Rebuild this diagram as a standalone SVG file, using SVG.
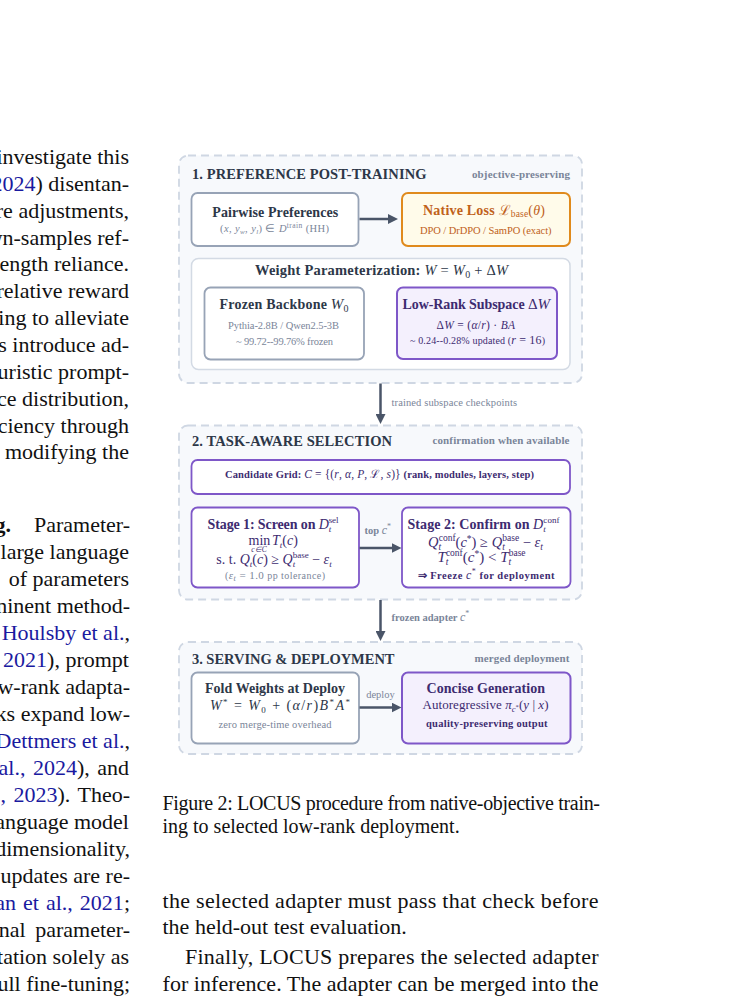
<svg xmlns="http://www.w3.org/2000/svg" width="741" height="1000" viewBox="0 0 741 1000">
<style>
text { font-family: "Liberation Serif", "Times New Roman", serif; }
.body { font-size: 22px; fill: #111; }
.cap { font-size: 20px; fill: #111; }
.cite { fill: #1a1aa0; }
.b { font-weight: bold; }
.panel { fill: #f7f9fc; stroke: #cfd7e3; stroke-width: 1.8; stroke-dasharray: 8 5; }
.boxg { fill: #ffffff; stroke: #97a3b6; stroke-width: 1.8; }
.boxl { fill: #ffffff; stroke: #d3dae4; stroke-width: 1.5; }
.boxp { fill: #ffffff; stroke: #7e57c8; stroke-width: 1.8; }
.boxpf { fill: #f4f0fd; stroke: #7e57c8; stroke-width: 2; }
.boxo { fill: #fffbea; stroke: #e08a1c; stroke-width: 2; }
.pt { font-size: 14.5px; font-weight: bold; fill: #2d3748; }
.tag { font-size: 11px; font-weight: bold; fill: #7a8599; }
.bt { font-size: 14px; font-weight: bold; }
.sm { font-size: 10.5px; }
.dark { fill: #2d3748; }
.gray { fill: #7a8599; }
.purp { fill: #3d2b70; }
.orng { fill: #c0611a; }
.i { font-style: italic; }
.n { font-weight: normal; }
.conn line { stroke: #4a5568; stroke-width: 2.5; }
.lbl { font-size: 10.5px; fill: #7a8599; }
</style>
<defs>
<marker id="ah" viewBox="0 0 10 10" refX="1" refY="5" markerWidth="10" markerHeight="10" markerUnits="userSpaceOnUse" orient="auto">
<path d="M0,0 L10,5 L0,10 z" fill="#4a5568"/>
</marker>
</defs>
<rect width="741" height="1000" fill="#ffffff"/>

<!-- left column body text (clipped) -->
<g id="left-column" class="body" text-anchor="end">
<text x="129" y="164">investigate this</text>
<text x="129" y="190.9"><tspan class="cite">2024</tspan>) disentan-</text>
<text x="129" y="217.7">ore adjustments,</text>
<text x="129" y="244.6">wn-samples ref-</text>
<text x="129" y="271.4">length reliance.</text>
<text x="129" y="298.3">relative reward</text>
<text x="129" y="325.1">ning to alleviate</text>
<text x="129" y="352">s introduce ad-</text>
<text x="129" y="378.8">euristic prompt-</text>
<text x="129" y="405.7">ce distribution,</text>
<text x="129" y="432.5">ciency through</text>
<text x="129" y="459.4">modifying the</text>
<text x="11" y="532" class="b">g.</text>
<text x="130" y="532">Parameter-</text>
<text x="129" y="559">large language</text>
<text x="129" y="586">of parameters</text>
<text x="130" y="613">ninent method-</text>
<text x="130" y="640"><tspan class="cite">Houlsby et al.</tspan>,</text>
<text x="129" y="667"><tspan class="cite">2021</tspan>), prompt</text>
<text x="130" y="694">w-rank adapta-</text>
<text x="130" y="721">ks expand low-</text>
<text x="130" y="748"><tspan class="cite">Dettmers et al.</tspan>,</text>
<text x="129" y="775" word-spacing="2"><tspan class="cite">t al., 2024</tspan>), and</text>
<text x="130" y="802" word-spacing="2"><tspan class="cite">l., 2023</tspan>). Theo-</text>
<text x="129" y="829">anguage model</text>
<text x="130" y="856">dimensionality,</text>
<text x="130" y="883">updates are re-</text>
<text x="130" y="910" word-spacing="1.5"><tspan class="cite">van et al., 2021</tspan>;</text>
<text x="130" y="937" word-spacing="4">nal parameter-</text>
<text x="129" y="964">tation solely as</text>
<text x="130" y="991">full fine-tuning;</text>
</g>

<!-- caption and right body text -->
<g id="caption">
<text class="cap" x="162.5" y="810" textLength="437.5">Figure 2: LOCUS procedure from native-objective train-</text>
<text class="cap" x="162.5" y="833">ing to selected low-rank deployment.</text>
</g>
<g id="right-body" class="body">
<text x="162.5" y="907.5" textLength="436">the selected adapter must pass that check before</text>
<text x="162.5" y="934">the held-out test evaluation.</text>
<text x="185" y="964" textLength="413.5">Finally, LOCUS prepares the selected adapter</text>
<text x="162.5" y="991" textLength="436">for inference. The adapter can be merged into the</text>
</g>

<!-- panels -->
<g id="panel-1">
<rect class="panel" x="179" y="155.5" width="403" height="227.5" rx="9"/>
<text class="pt" x="192" y="179.3" textLength="234.5">1. PREFERENCE POST-TRAINING</text>
<text class="tag" x="570" y="177.7" text-anchor="end" textLength="98">objective-preserving</text>
</g>
<g id="panel-2">
<rect class="panel" x="179" y="425.5" width="403" height="174" rx="9"/>
<text class="pt" x="192" y="446" textLength="200">2. TASK-AWARE SELECTION</text>
<text class="tag" x="569.5" y="444" text-anchor="end" textLength="137">confirmation when available</text>
</g>
<g id="panel-3">
<rect class="panel" x="179" y="642" width="403" height="112" rx="9"/>
<text class="pt" x="192" y="663.5" textLength="202.5">3. SERVING &amp; DEPLOYMENT</text>
<text class="tag" x="569.5" y="661.7" text-anchor="end" textLength="95">merged deployment</text>
</g>

<!-- nodes -->
<g id="pairwise-preferences">
<rect class="boxg" x="191.5" y="193" width="167" height="53" rx="6"/>
<text class="bt dark" x="212.3" y="217" textLength="126">Pairwise Preferences</text>
<text class="sm gray" x="220" y="232" textLength="109">(<tspan class="i">x</tspan>, <tspan class="i">y</tspan><tspan class="i" font-size="7" dy="1.8">w</tspan><tspan dy="-1.8">, </tspan><tspan class="i">y</tspan><tspan class="i" font-size="7" dy="1.8">l</tspan><tspan dy="-1.8">) ∈ </tspan><tspan class="i">D</tspan><tspan font-size="7.5" dy="-3.8">train</tspan><tspan dy="3.8"> (HH)</tspan></text>
</g>
<g id="native-loss">
<rect class="boxo" x="402" y="193" width="168" height="53" rx="6"/>
<text class="bt orng" x="423" y="214.5" textLength="122">Native Loss <tspan class="n">ℒ</tspan><tspan class="n" font-size="9.5" dy="2.5">base</tspan><tspan class="n" dy="-2.5">(</tspan><tspan class="n i">θ</tspan><tspan class="n">)</tspan></text>
<text class="sm orng" x="420" y="233.5" textLength="131.5">DPO / DrDPO / SamPO (exact)</text>
</g>
<g id="weight-parameterization">
<rect class="boxl" x="191.5" y="258.5" width="378.5" height="111" rx="7"/>
<text class="pt" x="255" y="275" textLength="253">Weight Parameterization: <tspan class="n i">W</tspan><tspan class="n"> = </tspan><tspan class="n i">W</tspan><tspan class="n" font-size="10" dy="3">0</tspan><tspan class="n" dy="-3"> + Δ</tspan><tspan class="n i">W</tspan></text>
</g>
<g id="frozen-backbone">
<rect class="boxg" x="204.5" y="287.5" width="159.5" height="72" rx="6"/>
<text class="bt dark" x="219.5" y="308.5" textLength="129">Frozen Backbone <tspan class="n i" font-size="15">W</tspan><tspan class="n" font-size="10" dy="3">0</tspan></text>
<text class="sm gray" x="228" y="329" textLength="111">Pythia-2.8B / Qwen2.5-3B</text>
<text class="sm gray" x="236" y="345" textLength="97">~ 99.72--99.76% frozen</text>
</g>
<g id="low-rank-subspace">
<rect class="boxpf" x="397" y="287.5" width="160" height="71.5" rx="6"/>
<text class="bt purp" x="402.5" y="308.5" textLength="147.5">Low-Rank Subspace <tspan class="n" font-size="15">Δ</tspan><tspan class="n i" font-size="15">W</tspan></text>
<text class="purp" font-size="11.5" x="436.5" y="328.5" textLength="78.5">Δ<tspan class="i">W</tspan> = (<tspan class="i">α</tspan>/<tspan class="i">r</tspan>) · <tspan class="i">BA</tspan></text>
<text class="purp" font-size="10" x="410" y="343.5" textLength="135">~ 0.24--0.28% updated (<tspan class="i" font-size="12">r</tspan><tspan font-size="12"> = 16</tspan>)</text>
</g>
<g id="candidate-grid">
<rect class="boxp" x="191.5" y="460" width="378.5" height="34" rx="6"/>
<text class="b purp" font-size="10.5" x="225" y="477.5" textLength="309">Candidate Grid: <tspan class="n i" font-size="11.5">C</tspan><tspan class="n" font-size="11.5"> = {(</tspan><tspan class="n i" font-size="11.5">r</tspan><tspan class="n" font-size="11.5">, </tspan><tspan class="n i" font-size="11.5">α</tspan><tspan class="n" font-size="11.5">, </tspan><tspan class="n i" font-size="11.5">P</tspan><tspan class="n" font-size="11.5">, ℒ, </tspan><tspan class="n i" font-size="11.5">s</tspan><tspan class="n" font-size="11.5">)}</tspan> (rank, modules, layers, step)</text>
</g>
<g id="stage-1-screen">
<rect class="boxp" x="191.5" y="507.5" width="167.5" height="80" rx="6"/>
<text class="bt purp" x="207.5" y="528.5" textLength="131">Stage 1: Screen on <tspan class="n i">D</tspan><tspan class="n i" font-size="9" dy="3.5">t</tspan><tspan class="n" font-size="9" dx="-2.5" dy="-9">sel</tspan></text>
<text class="purp" font-size="14" x="248.5" y="545">min</text>
<text class="purp i" font-size="7.5" x="259" y="552" text-anchor="middle">c∈C</text>
<text class="purp" font-size="14" x="272" y="545"><tspan class="i">T</tspan><tspan class="i" font-size="9" dy="2.5">t</tspan><tspan dy="-2.5">(</tspan><tspan class="i">c</tspan>)</text>
<text class="purp" font-size="14" x="274" y="564" text-anchor="middle">s. t.  <tspan class="i">Q</tspan><tspan class="i" font-size="9" dy="3">t</tspan><tspan dy="-3">(</tspan><tspan class="i">c</tspan>) ≥ <tspan class="i">Q</tspan><tspan class="i" font-size="9" dy="3">t</tspan><tspan font-size="9" dx="-2.5" dy="-9">base</tspan><tspan dy="6"> − </tspan><tspan class="i">ε</tspan><tspan class="i" font-size="9" dy="3">t</tspan></text>
<text class="gray" font-size="10" x="225" y="578.5" textLength="100">(<tspan class="i" font-size="11">ε</tspan><tspan class="i" font-size="8" dy="2">t</tspan><tspan font-size="11" dy="-2"> = 1.0</tspan> pp tolerance)</text>
</g>
<g id="stage-2-confirm">
<rect class="boxp" x="402" y="507.5" width="168.5" height="80" rx="6"/>
<text class="bt purp" x="407.5" y="528.5" textLength="152">Stage 2: Confirm on <tspan class="n i">D</tspan><tspan class="n i" font-size="9" dy="3.5">t</tspan><tspan class="n" font-size="9" dx="-2.5" dy="-9">conf</tspan></text>
<text class="purp" font-size="14.5" x="485.5" y="547" text-anchor="middle"><tspan class="i">Q</tspan><tspan class="i" font-size="9.5" dy="3">t</tspan><tspan font-size="9.5" dx="-2.5" dy="-9">conf</tspan><tspan dy="6">(</tspan><tspan class="i">c</tspan><tspan font-size="9.5" dy="-5">*</tspan><tspan dy="5">) ≥ </tspan><tspan class="i">Q</tspan><tspan class="i" font-size="9.5" dy="3">t</tspan><tspan font-size="9.5" dx="-2.5" dy="-9">base</tspan><tspan dy="6"> − </tspan><tspan class="i">ε</tspan><tspan class="i" font-size="9.5" dy="3">t</tspan></text>
<text class="purp" font-size="15" x="481.5" y="561.5" text-anchor="middle"><tspan class="i">T</tspan><tspan class="i" font-size="9.5" dy="3">t</tspan><tspan font-size="9.5" dx="-2.5" dy="-9">conf</tspan><tspan dy="6">(</tspan><tspan class="i">c</tspan><tspan font-size="9.5" dy="-5">*</tspan><tspan dy="5">) &lt; </tspan><tspan class="i">T</tspan><tspan class="i" font-size="9.5" dy="3">t</tspan><tspan font-size="9.5" dx="-2.5" dy="-9">base</tspan></text>
<text class="b purp" font-size="10.5" x="417.5" y="578.5" textLength="137">⇒ Freeze <tspan class="n i" font-size="12">c</tspan><tspan class="n" font-size="8" dy="-5">*</tspan><tspan dy="5"> for deployment</tspan></text>
</g>
<g id="fold-weights">
<rect class="boxg" x="191.5" y="672.5" width="167.5" height="71" rx="6"/>
<text class="bt dark" x="205" y="692.5" textLength="140">Fold Weights at Deploy</text>
<text class="dark" font-size="14" x="210" y="710" textLength="140"><tspan class="i">W</tspan><tspan font-size="9" dy="-5">*</tspan><tspan dy="5"> = </tspan><tspan class="i">W</tspan><tspan font-size="9" dy="3">0</tspan><tspan dy="-3"> + (</tspan><tspan class="i">α</tspan>/<tspan class="i">r</tspan>)<tspan class="i">B</tspan><tspan font-size="9" dy="-5">*</tspan><tspan class="i" dy="5">A</tspan><tspan font-size="9" dy="-5">*</tspan></text>
<text class="sm gray" x="218.5" y="728" textLength="113">zero merge-time overhead</text>
</g>
<g id="concise-generation">
<rect class="boxpf" x="402" y="672.5" width="168.5" height="71" rx="6"/>
<text class="bt purp" x="426.5" y="692.5" textLength="118.5">Concise Generation</text>
<text class="purp" font-size="13" x="422.5" y="709" textLength="126">Autoregressive <tspan class="i">π</tspan><tspan class="i" font-size="8.5" dy="3">c</tspan><tspan font-size="6.5" dy="-3">*</tspan><tspan dy="0">(</tspan><tspan class="i">y</tspan> | <tspan class="i">x</tspan>)</text>
<text class="b purp" font-size="10.5" x="426" y="727" textLength="121.5">quality-preserving output</text>
</g>

<!-- connectors -->
<g id="connectors" class="conn">
<line x1="359.5" y1="219" x2="389" y2="219" marker-end="url(#ah)"/>
<line x1="380.5" y1="383.5" x2="380.5" y2="415" marker-end="url(#ah)"/>
<text class="lbl" x="391.5" y="406" textLength="125.5">trained subspace checkpoints</text>
<line x1="359.5" y1="548" x2="392.5" y2="548" marker-end="url(#ah)"/>
<text class="lbl b" x="364.5" y="533.5">top <tspan class="n i" font-size="12">c</tspan><tspan class="n" font-size="8" dy="-5">*</tspan></text>
<line x1="380.5" y1="600" x2="380.5" y2="632" marker-end="url(#ah)"/>
<text class="lbl b" x="391.5" y="621">frozen adapter <tspan class="n i" font-size="12">c</tspan><tspan class="n" font-size="8" dy="-5">*</tspan></text>
<line x1="359.5" y1="707.5" x2="392.5" y2="707.5" marker-end="url(#ah)"/>
<text class="lbl" x="380.5" y="697.5" text-anchor="middle">deploy</text>
</g>
</svg>
